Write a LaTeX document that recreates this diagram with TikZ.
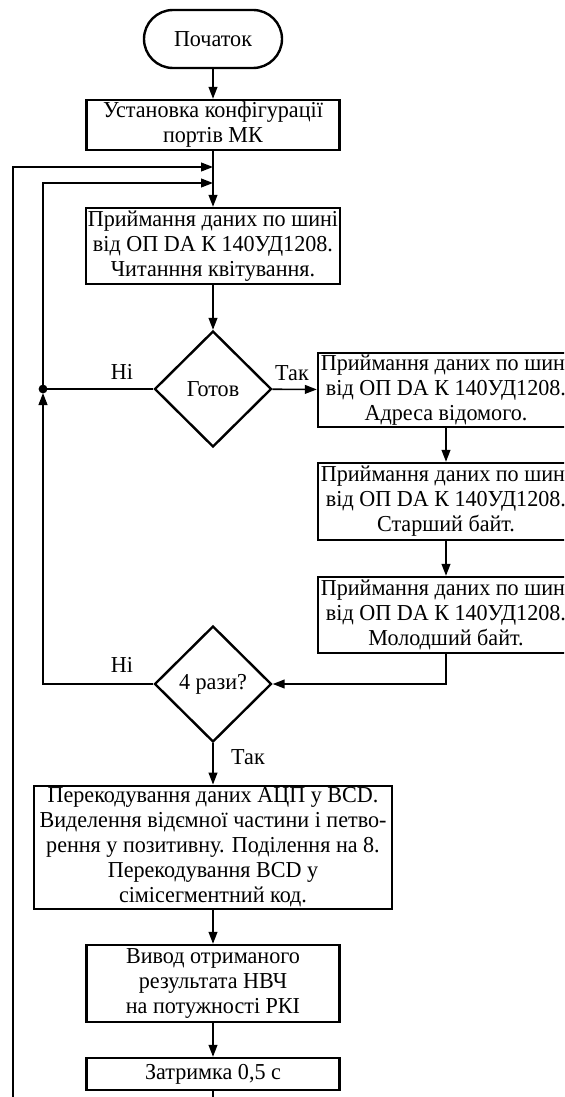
\documentclass[tikz,border=0pt]{standalone}
\usepackage{fontspec}
\setmainfont[FakeStretch=0.97]{Liberation Serif}
\usetikzlibrary{shapes.geometric}
\usetikzlibrary{positioning}
\usetikzlibrary{calc}
\usetikzlibrary{arrows.meta}

\begin{document}
\begin{tikzpicture}[x=0.5pt, y=-0.5pt,
    font=\fontsize{11.4}{12.5}\selectfont,
    block/.style={draw, line width=1.2pt, align=center, inner sep=1pt, minimum width=126.5pt},
    terminal/.style={draw, line width=1.2pt, rounded corners=14.5pt, minimum width=69pt, minimum height=29pt},
    decision/.style={draw, diamond, line width=1.2pt, inner sep=0pt, minimum width=58.5pt, minimum height=58pt},
    line/.style={line width=0.8pt},
    arr/.style={line, -{Triangle[length=6pt,width=4.4pt]}},
    lbl/.style={inner sep=0pt}]

%---------------------------------------
% Frame (the picture is cut at the right and at the bottom)
%---------------------------------------
\useasboundingbox (0,0) rectangle (564,1097);
\clip (0,0) rectangle (564,1097);

\def\mainx{213}
\def\sidex{446}
\def\outerx{13}
\def\innerx{43}

%====================================================
% Main column
%====================================================
\node[terminal] (start) at (\mainx,39) {Початок};
\node[block, minimum height=25pt] (config) at (\mainx,125)
    {Установка конфігурації\\портів МК};
\node[block, minimum height=38pt] (recv) at (\mainx,246)
    {Приймання даних по шині\\від ОП DA К 140УД1208.\\Читанння квітування.};
\node[decision] (ready) at (\mainx,389) {Готов};
\node[decision] (count) at (\mainx,684) {4 рази?};
\node[block, minimum width=179pt, minimum height=60.5pt] (convert) at (\mainx,847.5)
    {Перекодування даних АЦП у BCD.\\Виделення відємної частини і петво-\\рення у позитивну. Поділення на 8.\\Перекодування BCD у\\сімісегментний код.};
\node[block, minimum height=38.5pt] (output) at (\mainx,983.5)
    {Вивод отриманого\\результата НВЧ\\на потужності РКІ};
\node[block, minimum height=16pt] (delay) at (\mainx,1074) {Затримка 0,5 с};

%====================================================
% Right column
%====================================================
\node[block, minimum width=128pt, minimum height=37pt] (addr) at (\sidex,390)
    {Приймання даних по шині\\від ОП DA К 140УД1208.\\Адреса відомого.};
\node[block, minimum width=128pt, minimum height=38.5pt] (hibyte) at (\sidex,501.5)
    {Приймання даних по шині\\від ОП DA К 140УД1208.\\Старший байт.};
\node[block, minimum width=128pt, minimum height=38pt] (lobyte) at (\sidex,615)
    {Приймання даних по шині\\від ОП DA К 140УД1208.\\Молодший байт.};

% Labels
\node[lbl] (no1)  at (122,372) {Ні};
\node[lbl] (yes1) at (292,373) {Так};
\node[lbl] (no2)  at (122,665) {Ні};
\node[lbl] (yes2) at (248,757) {Так};

% Helper points
\coordinate (join1) at (\mainx,167);
\coordinate (join2) at (\mainx,183);
\coordinate (dot) at (\innerx,389);
\coordinate (bottom) at (\mainx,1115);
\coordinate (outerlow) at (\outerx,1115);
\coordinate (outertop) at (\outerx,167);

%---------------------------------------
% Connectors
%---------------------------------------
\draw[arr] (start) -- (config);
\draw[arr] (config) -- (recv);
\draw[arr] (recv) -- (ready);
\draw[arr] (ready) -- (addr);
\draw[arr] (addr) -- (hibyte);
\draw[arr] (hibyte) -- (lobyte);
\draw[arr] (lobyte.south) |- (count.east);
\draw[arr] (count) -- (convert);
\draw[arr] (convert) -- (output);
\draw[arr] (output) -- (delay);

% inner loop
\draw[arr] (ready.west) -- (dot) |- (join2);
\draw[arr, shorten >=2pt] (count.west) -| (dot);
\fill (dot) circle (2.2pt);

% outer loop
\draw[arr] (delay) -- (bottom) -- (outerlow) -- (outertop) -- (join1);

\end{tikzpicture}
\end{document}
